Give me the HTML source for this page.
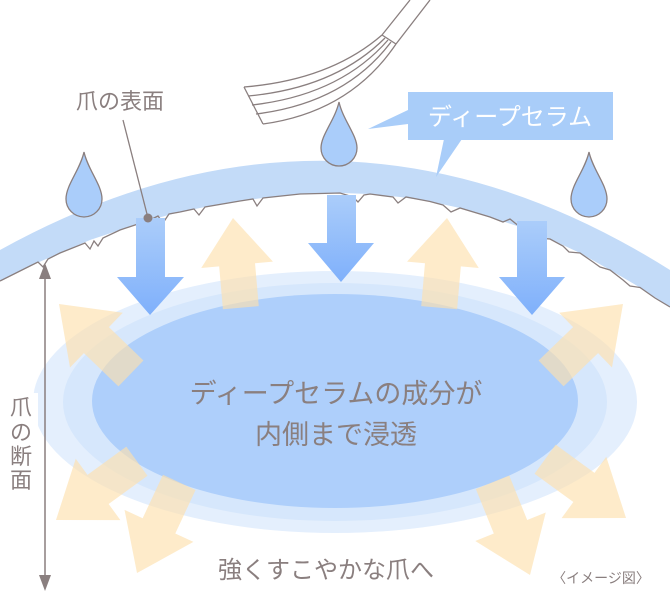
<!DOCTYPE html>
<html><head><meta charset="utf-8"><style>
html,body{margin:0;padding:0;background:#fff;}
svg{display:block;}
text{font-family:"Liberation Sans","Noto Sans CJK JP",sans-serif;}
</style></head><body>
<svg width="670" height="599" viewBox="0 0 670 599" xmlns="http://www.w3.org/2000/svg">
<defs>
<linearGradient id="bg" x1="0" y1="0" x2="0" y2="1">
<stop offset="0" stop-color="#abcdfa"/><stop offset="1" stop-color="#7fb0fb"/>
</linearGradient>
</defs>
<!-- nail band -->
<path d="M0,250 Q340,62 670,270 L670,307 L640,287.5 L610,270 L580,253 L550,239 L520,227 L490,217 L460,208 L430,201.5 L400,197 L370,194 L340,193 L300,194 L270,197 L240,201 L210,206 L180,212 L150,220 L120,230 L90,240 L60,253 L30,266 L0,281 Z" fill="#c3dbf8"/>
<path d="M0,281 L30,266 L38,262 L43,267 L48,259 L60,253 L85,243 L90,249 L94,241 L98,246 L103,238 L120,230 L150,220 L158,216 L163,223 L169,214 L180,212 L194,209 L199,215 L205,207 L240,201 L253,199 L257,206 L263,198 L300,194 L340,193 L353,197 L358,202 L364,195 L370,194 L393,197 L398,203 L406,197 L430,201.5 L443,205 L451,212 L460,208 L490,217 L503,222 L510,219 L520,227 L533,232 L538,238 L550,239 L563,246 L569,252 L580,253 L593,262 L600,267 L610,270 L623,280 L630,286 L640,287.5 L655,298 L670,307" fill="none" stroke="#8a7f7f" stroke-width="1.3"/>
<!-- ellipses -->
<ellipse cx="335" cy="402" rx="302" ry="131" fill="#e4effd"/>
<ellipse cx="335" cy="402" rx="272" ry="119" fill="#d6e7fc"/>
<ellipse cx="335" cy="401" rx="243" ry="107" fill="#aecffb"/>
<!-- yellow arrows -->
<g fill="#fde0ad" opacity="0.65">
<g transform="translate(233,218) rotate(-5)"><polygon points="0,0 36,47 18,47 18,90 -18,90 -18,47 -36,47"/></g>
<g transform="translate(447,218) rotate(5)"><polygon points="0,0 36,47 18,47 18,90 -18,90 -18,47 -36,47"/></g>
<g transform="translate(59,304) rotate(-46)"><polygon points="0,0 38,52 18,52 18,100 -18,100 -18,52 -38,52"/></g>
<g transform="translate(623,304) rotate(46)"><polygon points="0,0 38,52 18,52 18,100 -18,100 -18,52 -38,52"/></g>
<g transform="translate(56,520) rotate(-126)"><polygon points="0,0 38,52 18,52 18,100 -18,100 -18,52 -38,52"/></g>
<g transform="translate(137,573) rotate(-155)"><polygon points="0,0 38,52 18,52 18,100 -18,100 -18,52 -38,52"/></g>
<g transform="translate(626,518) rotate(126)"><polygon points="0,0 38,52 18,52 18,100 -18,100 -18,52 -38,52"/></g>
<g transform="translate(530,575) rotate(158)"><polygon points="0,0 38,52 18,52 18,100 -18,100 -18,52 -38,52"/></g>
</g>
<!-- blue arrows -->
<polygon points="136,218 165,218 165,277 184,277 150,315 117,277 136,277" fill="url(#bg)"/>
<polygon points="327,195 356,195 356,243 374,243 341,282 308,243 327,243" fill="url(#bg)"/>
<polygon points="517,221 547,221 547,277 565,277 532,315 499,277 517,277" fill="url(#bg)"/>
<!-- leader -->
<line x1="123" y1="120" x2="148" y2="218" stroke="#8a7f7f" stroke-width="1.3"/>
<circle cx="148" cy="218" r="4.5" fill="#8a7f7f"/>
<text x="76" y="109" font-size="22" fill="#8a7f7f">爪の表面</text>
<!-- drops -->
<g fill="#aacdfa" stroke="#8a7f7f" stroke-width="1.3">
<path d="M84,152 C88,170 102,185 102,199 A18,18 0 0 1 66,199 C66,185 80,170 84,152 Z"/>
<path d="M339,102 C343,120 357,135 357,148 A18,18 0 0 1 321,148 C321,135 335,120 339,102 Z"/>
<path d="M589,152 C593,170 607,185 607,199 A18,18 0 0 1 571,199 C571,185 585,170 589,152 Z"/>
</g>
<!-- callout -->
<polygon points="408,110 368,129 408,124" fill="#a9cdf9"/>
<polygon points="444,139 462,139 436,177" fill="#a9cdf9"/>
<rect x="408" y="92" width="205" height="48" fill="#a9cdf9"/>
<text x="510" y="125" font-size="24" fill="#fff" text-anchor="middle">ディープセラム</text>
<!-- brush -->
<g fill="none" stroke="#8a7f7f" stroke-width="1.3">
<line x1="410" y1="0" x2="382" y2="35"/>
<line x1="430" y1="0" x2="396" y2="44"/>
<path d="M382,35 Q330,80 244,87"/>
<path d="M385,38 Q335,88 248,96"/>
<path d="M388,40 Q340,95 252,105"/>
<path d="M391,42 Q345,103 256,114"/>
<path d="M396,44 Q350,112 263,124"/>
<line x1="244" y1="87" x2="263" y2="124"/>
<line x1="382" y1="35" x2="396" y2="44"/>
</g>
<!-- vertical arrow -->
<line x1="45" y1="272" x2="45" y2="578" stroke="#8a7f7f" stroke-width="1.5"/>
<polygon points="45,263 39,279 51,279" fill="#8a7f7f"/>
<polygon points="45,591 39,575 51,575" fill="#8a7f7f"/>
<rect x="8" y="393" width="30" height="98" fill="#fff"/>
<text font-size="22" fill="#8a7f7f" text-anchor="middle"><tspan x="21" y="415">爪</tspan><tspan x="21" y="440">の</tspan><tspan x="21" y="464">断</tspan><tspan x="21" y="488">面</tspan></text>
<!-- center texts -->
<text x="336" y="403" font-size="27" fill="#8a7f7f" text-anchor="middle">ディープセラムの成分が</text>
<text x="336" y="444" font-size="27" fill="#8a7f7f" text-anchor="middle">内側まで浸透</text>
<text x="326" y="578" font-size="24" fill="#8a7f7f" text-anchor="middle">強くすこやかな爪へ</text>
<text x="601" y="583" font-size="14" fill="#8a7f7f" text-anchor="middle">〈イメージ図〉</text>
</svg>
</body></html>
